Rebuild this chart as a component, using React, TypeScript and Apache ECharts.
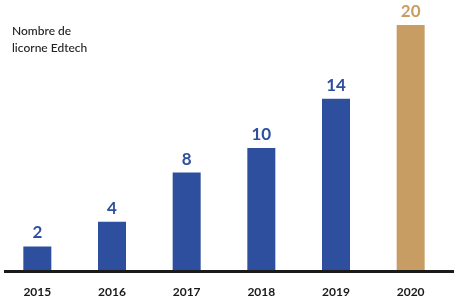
import React, { useEffect, useRef } from "react";
import * as echarts from "echarts";

const years = ["2015", "2016", "2017", "2018", "2019", "2020"];
const unicorns = [2, 4, 8, 10, 14, 20];
const highlightYear = "2020";
const titleLines = ["Nombre de", "licorne Edtech"];

const BLUE = "#2D4F9E";
const GOLD = "#C89D63";

export default function App() {
  const ref = useRef<HTMLDivElement>(null);
  useEffect(() => {
    if (!ref.current) return;
    const chart = echarts.init(ref.current, null, { renderer: "svg" });
    chart.setOption({
      animation: false,
      grid: { left: -1, width: 449, top: 25, bottom: 29, containLabel: false },
      xAxis: {
        type: "category",
        data: years,
        axisLine: { show: false },
        axisTick: { show: false },
        axisLabel: {
          color: "#1a1a1a",
          fontFamily: "Lato",
          fontWeight: "bold",
          fontSize: 12,
          margin: 14,
        },
      },
      yAxis: {
        type: "value",
        min: 0,
        max: 20,
        show: false,
        splitLine: { show: false },
      },
      graphic: [
        {
          type: "rect",
          shape: { x: 4, y: 270, width: 450, height: 3 },
          style: { fill: "#1a1a1a" },
          z: 10,
        },
        {
          type: "text",
          left: 12,
          top: 22,
          style: {
            text: titleLines.join("\n"),
            fill: "#222",
            font: "500 12px Lato",
            lineHeight: 17,
          },
        },
      ],
      series: [
        {
          type: "bar",
          barWidth: 28,
          data: unicorns.map((v, i) => {
            const c = years[i] === highlightYear ? GOLD : BLUE;
            return {
              value: v,
              itemStyle: { color: c },
              label: { color: c },
            };
          }),
          label: {
            show: true,
            position: "top",
            distance: 6,
            fontFamily: "Lato",
            fontWeight: "bold",
            fontSize: 17,
          },
        },
      ],
    });
    return () => chart.dispose();
  }, []);
  return (
    <div
      ref={ref}
      style={{ position: "fixed", left: 0, top: 0, width: 454, height: 300 }}
    />
  );
}
